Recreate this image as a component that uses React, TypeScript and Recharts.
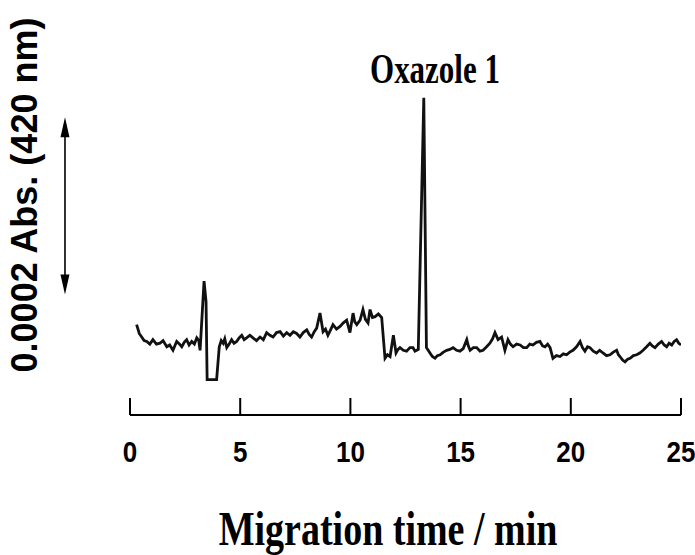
import React from 'react';
import { LineChart, Line, XAxis, YAxis, ReferenceLine, Customized } from 'recharts';

// Migration time (min)
const TIME_MIN = [
  0.30, 0.42, 0.53, 0.64, 0.76, 0.90, 1.04, 1.20, 1.36, 1.50, 1.67, 1.80, 1.95, 2.05, 2.12, 2.25,
  2.35, 2.46, 2.57, 2.68, 2.80, 2.92, 3.03, 3.12, 3.18, 3.36, 3.45, 3.50, 3.93, 4.05, 4.14, 4.23,
  4.30, 4.39, 4.50, 4.61, 4.72, 4.84, 4.95, 5.07, 5.18, 5.29, 5.44, 5.58, 5.74, 5.90, 6.05, 6.20,
  6.35, 6.49, 6.65, 6.81, 6.96, 7.11, 7.26, 7.41, 7.56, 7.71, 7.86, 8.02, 8.13, 8.24, 8.36, 8.47,
  8.62, 8.76, 8.87, 8.98, 9.10, 9.21, 9.37, 9.53, 9.68, 9.83, 9.98, 10.12, 10.20, 10.29, 10.44,
  10.57, 10.68, 10.80, 10.89, 11.00, 11.12, 11.27, 11.42, 11.57, 11.68, 11.80, 11.95, 12.07, 12.16,
  12.25, 12.40, 12.55, 12.70, 12.84, 12.93, 13.01, 13.08, 13.33, 13.45, 13.53, 13.61, 13.72, 13.84,
  13.95, 14.07, 14.22, 14.37, 14.51, 14.66, 14.82, 14.97, 15.12, 15.28, 15.35, 15.43, 15.58, 15.73,
  15.88, 16.02, 16.18, 16.33, 16.45, 16.56, 16.70, 16.86, 17.01, 17.15, 17.26, 17.38, 17.54, 17.70,
  17.85, 18.00, 18.14, 18.28, 18.44, 18.60, 18.72, 18.83, 18.95, 19.06, 19.19, 19.35, 19.51, 19.66,
  19.81, 19.95, 20.10, 20.26, 20.42, 20.53, 20.64, 20.76, 20.87, 21.02, 21.17, 21.31, 21.46, 21.62,
  21.78, 21.93, 22.08, 22.16, 22.23, 22.35, 22.46, 22.58, 22.69, 22.84, 22.99, 23.13, 23.28, 23.44,
  23.59, 23.70, 23.82, 23.97, 24.12, 24.24, 24.35, 24.46, 24.58, 24.69, 24.80, 24.90, 25.00,
];

// Absorbance at 420 nm, in units of 1e-4 Abs
const ABSORBANCE_E4 = [
  1.02, 0.92, 0.88, 0.84, 0.83, 0.80, 0.85, 0.80, 0.81, 0.84, 0.77, 0.79, 0.73, 0.79, 0.83, 0.80,
  0.77, 0.82, 0.85, 0.79, 0.83, 0.80, 0.87, 0.84, 0.73, 1.51, 1.28, 0.40, 0.40, 0.77, 0.84, 0.81,
  0.86, 0.76, 0.80, 0.85, 0.81, 0.83, 0.87, 0.90, 0.85, 0.87, 0.90, 0.87, 0.84, 0.88, 0.85, 0.93,
  0.90, 0.88, 0.93, 0.94, 0.89, 0.93, 0.90, 0.94, 0.92, 0.88, 0.93, 0.96, 0.91, 0.88, 0.94, 0.98,
  1.15, 0.94, 0.97, 0.90, 0.96, 1.02, 0.97, 1.00, 1.04, 1.07, 0.93, 1.15, 1.05, 1.02, 1.07,
  1.19, 1.08, 1.04, 1.19, 1.10, 1.11, 1.14, 1.10, 0.64, 0.68, 0.66, 0.90, 0.70, 0.74,
  0.76, 0.73, 0.72, 0.76, 0.76, 0.72, 0.73, 0.74, 3.58, 0.76, 0.73, 0.70, 0.66, 0.64,
  0.67, 0.68, 0.71, 0.73, 0.74, 0.76, 0.73, 0.72, 0.75, 0.85, 0.78, 0.73, 0.76, 0.76,
  0.72, 0.73, 0.77, 0.81, 0.86, 0.93, 0.85, 0.88, 0.73, 0.85, 0.80, 0.77, 0.80, 0.79,
  0.76, 0.76, 0.80, 0.79, 0.82, 0.83, 0.78, 0.77, 0.80, 0.76, 0.64, 0.67, 0.66, 0.69,
  0.68, 0.71, 0.73, 0.77, 0.83, 0.76, 0.72, 0.77, 0.76, 0.72, 0.70, 0.73, 0.70, 0.67,
  0.68, 0.71, 0.73, 0.68, 0.66, 0.62, 0.60, 0.63, 0.64, 0.67, 0.68, 0.70, 0.73, 0.77,
  0.81, 0.78, 0.76, 0.80, 0.83, 0.79, 0.77, 0.81, 0.79, 0.83, 0.85, 0.81, 0.79,
];

const X_TICKS = [0, 5, 10, 15, 20, 25];
const X_DOMAIN: [number, number] = [0, 25];
const Y_DOMAIN: [number, number] = [0, 3.6];

const PEAK_LABEL = 'Oxazole 1';
const X_TITLE = 'Migration time / min';
const Y_TITLE = '0.0002 Abs. (420 nm)';

// scale bar: 2 units of 1e-4 Abs = 0.0002 Abs
const SCALE_BAR_X = -2.95;
const SCALE_BAR_FROM = 1.36;
const SCALE_BAR_TO = 3.36;

const data = TIME_MIN.map((t, i) => ({ t, a: ABSORBANCE_E4[i] }));

const SANS = '"Liberation Sans", Arial, Helvetica, sans-serif';
const SERIF = '"Liberation Serif", "Times New Roman", Times, serif';

const AxisTick = (props: any) => {
  const { x, y, payload } = props;
  return (
    <g>
      <line x1={x} x2={x} y1={y - 17} y2={y} stroke="#000" strokeWidth={2} />
      <text
        transform={`translate(${x},${y + 47}) scale(1,1.1)`}
        textAnchor="middle"
        fontFamily={SANS}
        fontWeight="bold"
        fontSize={26}
        fill="#000"
      >
        {payload.value}
      </text>
    </g>
  );
};

const ArrowShape = (props: any) => {
  const { x1, y1, x2, y2 } = props;
  const top = Math.min(y1, y2);
  const bot = Math.max(y1, y2);
  const x = x1;
  return (
    <g>
      <line x1={x} x2={x} y1={top + 6} y2={bot - 6} stroke="#000" strokeWidth={1.6} />
      <polygon points={`${x},${top} ${x - 4.5},${top + 20} ${x + 4.5},${top + 20}`} fill="#000" />
      <polygon points={`${x},${bot} ${x - 4.5},${bot - 20} ${x + 4.5},${bot - 20}`} fill="#000" />
    </g>
  );
};

const Texts = () => (
  <g>
    <text
      transform="translate(435,83) scale(1,1.35)"
      textAnchor="middle"
      fontFamily={SERIF}
      fontWeight="bold"
      fontSize={31}
      fill="#000"
    >
      {PEAK_LABEL}
    </text>
    <text
      transform="translate(388,545) scale(1,1.28)"
      textAnchor="middle"
      fontFamily={SERIF}
      fontWeight="bold"
      fontSize={38}
      fill="#000"
    >
      {X_TITLE}
    </text>
    <text
      transform="translate(37,195) rotate(-90)"
      textAnchor="middle"
      fontFamily={SANS}
      fontWeight="bold"
      fontSize={36}
      fill="#000"
    >
      {Y_TITLE}
    </text>
  </g>
);

export default function App() {
  return (
    <div style={{ position: 'absolute', left: 0, top: 0, width: 695, height: 555, background: '#fff' }}>
      <LineChart
        width={695}
        height={555}
        data={data}
        margin={{ top: 96, right: 14, bottom: 80, left: 130 }}
      >
        <XAxis
          dataKey="t"
          type="number"
          domain={X_DOMAIN}
          ticks={X_TICKS}
          allowDataOverflow
          height={60}
          tickSize={0}
          tickMargin={0}
          tickLine={false}
          axisLine={{ stroke: '#000', strokeWidth: 2 }}
          tick={<AxisTick />}
          interval={0}
        />
        <YAxis type="number" domain={Y_DOMAIN} allowDataOverflow hide />
        <Line
          type="linear"
          dataKey="a"
          stroke="#111"
          strokeWidth={2.8}
          dot={false}
          isAnimationActive={false}
          strokeLinejoin="miter"
        />
        <ReferenceLine
          segment={[
            { x: SCALE_BAR_X, y: SCALE_BAR_FROM },
            { x: SCALE_BAR_X, y: SCALE_BAR_TO },
          ]}
          ifOverflow="visible"
          shape={<ArrowShape />}
        />
        <Customized component={<Texts />} />
      </LineChart>
    </div>
  );
}
